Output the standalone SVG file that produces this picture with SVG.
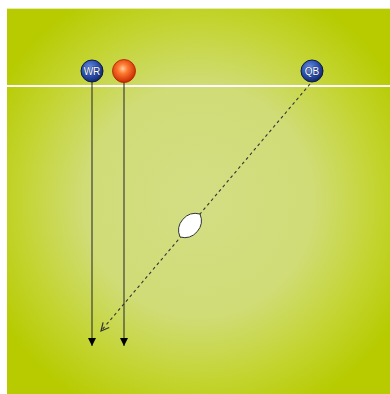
<svg xmlns="http://www.w3.org/2000/svg" width="390" height="394" viewBox="0 0 390 394">
<defs>
<radialGradient id="field" cx="0.5" cy="0.5" r="0.6">
<stop offset="0" stop-color="#d3de84"/>
<stop offset="0.5" stop-color="#d0dc76"/>
<stop offset="0.78" stop-color="#c3d430"/>
<stop offset="1" stop-color="#b7cb00"/>
</radialGradient>
<radialGradient id="blue" cx="0.4" cy="0.35" r="0.65">
<stop offset="0" stop-color="#6a8de0"/>
<stop offset="0.6" stop-color="#2a4fb0"/>
<stop offset="1" stop-color="#14286a"/>
</radialGradient>
<radialGradient id="red" cx="0.45" cy="0.4" r="0.6">
<stop offset="0" stop-color="#ffd0a0"/>
<stop offset="0.35" stop-color="#ff7a30"/>
<stop offset="1" stop-color="#c82a00"/>
</radialGradient>
<marker id="solidArrow" markerWidth="9" markerHeight="9" refX="8" refY="4.5" orient="auto" markerUnits="userSpaceOnUse" viewBox="0 0 9 9">
<path d="M0,0.5 L8,4.5 L0,8.5 Z" fill="#000"/>
</marker>
<marker id="openArrow" markerWidth="10" markerHeight="10" refX="9" refY="5" orient="auto" markerUnits="userSpaceOnUse" viewBox="0 0 10 10">
<path d="M1,1 L9,5 L1,9" fill="none" stroke="#333" stroke-width="1.2"/>
</marker>
<style>
.player{stroke:#0b1a40;stroke-width:1}
.lbl{font-family:"Liberation Sans",Arial,sans-serif;font-size:10px;fill:#ffffff;text-anchor:middle;stroke:#0b1a40;stroke-width:0.6;paint-order:stroke}
.route{stroke:#333;stroke-width:1.1;fill:none}
</style>
</defs>
<rect x="0" y="0" width="390" height="394" fill="#ffffff"/>
<rect x="7" y="8" width="383" height="386" fill="url(#field)"/>
<line x1="7" y1="8.5" x2="390" y2="8.5" stroke="#e6ebb0" stroke-width="1"/>
<line x1="7" y1="86" x2="390" y2="86" stroke="#ffffff" stroke-width="2"/>
<g id="connectors">
<line class="route" x1="92" y1="82" x2="92" y2="346" marker-end="url(#solidArrow)"/>
<line class="route" x1="124" y1="82" x2="124" y2="346" marker-end="url(#solidArrow)"/>
<line class="route" x1="310" y1="84" x2="101" y2="331" stroke-dasharray="3,3" marker-end="url(#openArrow)"/>
</g>
<g id="ball">
<path d="M180,237 A17,17 0 0 1 200,214 A17,17 0 0 1 180,237 Z" fill="#ffffff" stroke="#333" stroke-width="1"/>
</g>
<g id="WR">
<circle class="player" cx="92" cy="71" r="11" fill="url(#blue)"/>
<text class="lbl" x="92" y="75">WR</text>
</g>
<g id="R">
<circle cx="124" cy="71" r="11.5" fill="url(#red)" stroke="#b02000" stroke-width="0.8"/>
</g>
<g id="QB">
<circle class="player" cx="312" cy="71" r="11" fill="url(#blue)"/>
<text class="lbl" x="312" y="75">QB</text>
</g>
</svg>
